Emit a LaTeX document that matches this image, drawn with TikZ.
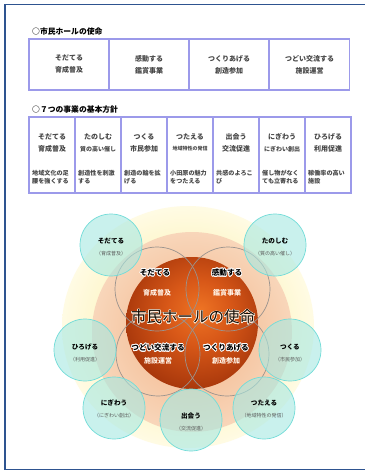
\documentclass[tikz,border=0pt]{standalone}
\usepackage{fontspec}
\setmainfont{Noto Sans CJK JP}
\usepackage{contour}
\contourlength{0.7pt}
\contournumber{16}
\definecolor{framec}{HTML}{2E5490}
\definecolor{tblc}{HTML}{9C9AEA}
\definecolor{txt}{HTML}{474747}
\definecolor{sphA}{HTML}{EE7424}
\definecolor{sphB}{HTML}{D85818}
\definecolor{sphC}{HTML}{A3340A}
\definecolor{sphD}{HTML}{742006}
\definecolor{peachIn}{HTML}{F2B285}
\definecolor{peachOut}{HTML}{F8D6BA}
\definecolor{yelIn}{HTML}{FBEC98}
\definecolor{yelOut}{HTML}{FFFBE4}
\definecolor{tealfill}{HTML}{A6E8E2}
\definecolor{tealdraw}{HTML}{72DCD8}
\definecolor{grayc}{HTML}{9A938E}
\pgfdeclareradialshading{sphereshade}{\pgfpoint{3bp}{5bp}}{color(0bp)=(sphA); color(12bp)=(sphB); color(30bp)=(sphC); color(48bp)=(sphD); color(64bp)=(sphD)}
\tikzset{
  ttl/.style={font=\bfseries\fontsize{7.8}{9}\selectfont, text=black, anchor=west, inner sep=0pt},
  cellA/.style={draw=tblc, line width=1.3pt, minimum width=80pt, minimum height=51pt, inner sep=0pt, align=center, text=txt, font=\bfseries\fontsize{7}{12}\selectfont},
  cellB/.style={draw=tblc, line width=1.3pt, minimum width=46pt, minimum height=76pt, inner sep=0pt},
  nameB/.style={font=\bfseries\fontsize{7}{8}\selectfont, text=txt, inner sep=0pt},
  subB/.style={font=\bfseries\fontsize{7}{8}\selectfont, text=txt, inner sep=0pt},
  subS/.style={font=\bfseries\fontsize{6}{7}\selectfont, text=txt, inner sep=0pt},
  subXS/.style={font=\bfseries\fontsize{5}{6}\selectfont, text=txt, inner sep=0pt},
  descB/.style={font=\bfseries\fontsize{6.1}{8}\selectfont, text=txt, inner sep=0pt, align=left, anchor=west},
  tealc/.style={circle, minimum size=62pt, inner sep=0pt, draw=tealdraw, line width=0.7pt, fill=tealfill, fill opacity=0.6},
  tname/.style={font=\bfseries\fontsize{6.6}{8}\selectfont, text=black, inner sep=0pt},
  tsub/.style={font=\fontsize{5}{6}\selectfont, text=black!65, inner sep=0pt},
  grc/.style={circle, minimum size=84pt, inner sep=0pt, draw=grayc, line width=0.7pt},
  iname/.style={font=\bfseries\fontsize{7.6}{9}\selectfont, text=black, inner sep=0pt},
  isub/.style={font=\bfseries\fontsize{7}{8}\selectfont, text=white!90!orange, inner sep=0pt},
}
\begin{document}
\begin{tikzpicture}[x=1pt,y=-1pt]
\useasboundingbox (0,0) rectangle (364,471);
\fill[white] (0,0) rectangle (364,471);
\draw[framec, line width=1.5pt] (366,4.5) -- (5,4.5) -- (5,469.5) -- (366,469.5);

% ---- mission table
\node[ttl] (t1) at (32,32) {○市民ホールの使命};
\node[cellA] (m1) at (69,64.5) {そだてる\\育成普及};
\node[cellA] (m2) at (149,64.5) {感動する\\鑑賞事業};
\node[cellA] (m3) at (229,64.5) {つくりあげる\\創造参加};
\node[cellA] (m4) at (309.5,64.5) {つどい交流する\\施設運営};

% ---- seven policies table
\node[ttl] (t2) at (32,110) {○７つの事業の基本方針};
\foreach \i/\cx in {1/52,2/98,3/144,4/190,5/236,6/282,7/328}
  \node[cellB] (c\i) at (\cx,155) {};
\node[nameB] (n1) at (52,137) {そだてる};
\node[subB] (s1) at (52,149) {育成普及};
\node[descB] (d1) at (32,177) {地域文化の足\\腰を強くする};
\node[nameB] (n2) at (98,137) {たのしむ};
\node[subS] (s2) at (98,149) {質の高い催し};
\node[descB] (d2) at (78,177) {創造性を刺激\\する};
\node[nameB] (n3) at (144,137) {つくる};
\node[subB] (s3) at (144,149) {市民参加};
\node[descB] (d3) at (124,177) {創造の輪を拡\\げる};
\node[nameB] (n4) at (190,137) {つたえる};
\node[subXS] (s4) at (190,149) {地域特性の発信};
\node[descB] (d4) at (170,177) {小田原の魅力\\をつたえる};
\node[nameB] (n5) at (236,137) {出会う};
\node[subB] (s5) at (236,149) {交流促進};
\node[descB] (d5) at (216,177) {共感のよろこ\\び};
\node[nameB] (n6) at (282,137) {にぎわう};
\node[subS] (s6) at (282,149) {にぎわい創出};
\node[descB] (d6) at (262,177) {催し物がなく\\ても立寄れる};
\node[nameB] (n7) at (328,137) {ひろげる};
\node[subB] (s7) at (328,149) {利用促進};
\node[descB] (d7) at (308,177) {稼働率の高い\\施設};

% ---- concentric background
\shade[inner color=yelIn, outer color=yelOut] (188,327) ellipse[x radius=126pt, y radius=121pt];
\shade[inner color=peachIn, outer color=peachOut] (192,332) circle[radius=100pt];
\shade[shading=sphereshade] (192,323) circle[radius=66pt];

% ---- four mission circles
\node[grc] (g1) at (157,289) {};
\node[grc] (g2) at (228,289) {};
\node[grc] (g3) at (158,354) {};
\node[grc] (g4) at (227,354) {};

% ---- seven policy circles
\node[tealc] (p1) at (111,245) {};
\node[tealc] (p2) at (275,245) {};
\node[tealc] (p3) at (85,350) {};
\node[tealc] (p4) at (290,350) {};
\node[tealc] (p5) at (114,408) {};
\node[tealc] (p7) at (264,408) {};
\node[tealc] (p6) at (191,420) {};

\node[tname] (pn1) at (111,241) {そだてる};
\node[tsub] (ps1) at (111,254) {（育成普及）};
\node[tname] (pn2) at (275,241) {たのしむ};
\node[tsub] (ps2) at (275,254) {（質の高い催し）};
\node[tname] (pn3) at (85,347) {ひろげる};
\node[tsub] (ps3) at (85,360) {（利用促進）};
\node[tname] (pn4) at (290,347) {つくる};
\node[tsub] (ps4) at (290,360) {（市民参加）};
\node[tname] (pn5) at (114,403) {にぎわう};
\node[tsub] (ps5) at (114,416) {（にぎわい創出）};
\node[tname] (pn6) at (191,416) {出会う};
\node[tsub] (ps6) at (191,429) {（交流促進）};
\node[tname] (pn7) at (264,403) {つたえる};
\node[tsub] (ps7) at (264,416) {（地域特性の発信）};

% ---- inner labels
\node[iname] (in1) at (155,273) {\contour{white}{そだてる}};
\node[isub] (is1) at (157,293) {育成普及};
\node[iname] (in2) at (227,273) {\contour{white}{感動する}};
\node[isub] (is2) at (227,293) {鑑賞事業};
\node[iname] (in3) at (158,348) {\contour{white}{つどい交流する}};
\node[isub] (is3) at (158,361) {施設運営};
\node[iname] (in4) at (226,348) {\contour{white}{つくりあげる}};
\node[isub] (is4) at (226,361) {創造参加};

\contourlength{0.5pt}
\node[font=\fontsize{15.5}{17}\selectfont, text=black!90!brown, inner sep=0pt] (main) at (193,317) {\contour{white!85!orange}{市民ホールの使命}};
\end{tikzpicture}
\end{document}
